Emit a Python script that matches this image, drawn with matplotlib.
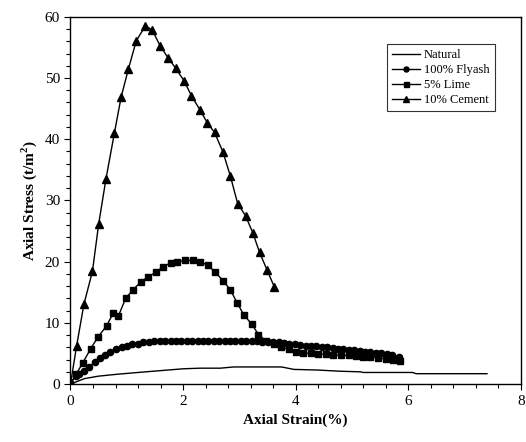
import matplotlib
matplotlib.use('Agg')
import matplotlib.pyplot as plt
from matplotlib.ticker import MultipleLocator

plt.rcParams['font.family'] = ['Liberation Serif', 'DejaVu Serif']
plt.rcParams['mathtext.fontset'] = 'custom'
plt.rcParams['mathtext.rm'] = 'Liberation Serif'
plt.rcParams['mathtext.bf'] = 'Liberation Serif:bold'

# Natural (line only)
natural_x = [0, 0.25, 0.5, 0.82, 1.2, 1.6, 2.0, 2.3, 2.66, 2.9, 3.3, 3.75, 3.97,
             4.38, 4.8, 5.16, 5.2, 6.08, 6.14, 7.4]
natural_y = [0, 0.9, 1.3, 1.6, 1.9, 2.2, 2.5, 2.6, 2.6, 2.8, 2.8, 2.8, 2.4,
             2.3, 2.1, 2.0, 1.9, 1.9, 1.7, 1.7]

# 100% Flyash
flyash_x = [0.0, 0.09, 0.16, 0.24, 0.33, 0.43, 0.52, 0.62, 0.71, 0.81,
            0.91, 1.00, 1.10, 1.20, 1.29, 1.40, 1.49, 1.59, 1.68, 1.78,
            1.87, 1.97, 2.07, 2.16, 2.26, 2.35, 2.45, 2.55, 2.64, 2.74,
            2.83, 2.93, 3.03, 3.12, 3.22, 3.31, 3.41, 3.51, 3.60, 3.70,
            3.79, 3.89, 3.99, 4.08, 4.18, 4.27, 4.37, 4.47, 4.56, 4.66,
            4.75, 4.85, 4.95, 5.04, 5.14, 5.23, 5.33, 5.43, 5.52, 5.62,
            5.71, 5.84]
flyash_y = [0.2, 1.3, 1.6, 2.2, 2.8, 3.6, 4.2, 4.7, 5.2, 5.7,
            6.0, 6.3, 6.5, 6.6, 6.8, 6.9, 7.0, 7.0, 7.0, 7.1,
            7.1, 7.1, 7.1, 7.1, 7.1, 7.1, 7.1, 7.1, 7.1, 7.1,
            7.1, 7.1, 7.1, 7.0, 7.0, 7.0, 6.9, 6.9, 6.8, 6.8,
            6.7, 6.6, 6.5, 6.4, 6.3, 6.3, 6.2, 6.1, 6.0, 5.9,
            5.8, 5.7, 5.6, 5.5, 5.4, 5.3, 5.2, 5.1, 5.0, 4.9,
            4.8, 4.5]

# 5% Lime
lime_x = [0.0, 0.1, 0.22, 0.36, 0.49, 0.64, 0.76, 0.85, 0.98, 1.11,
          1.25, 1.38, 1.52, 1.65, 1.78, 1.90, 2.04, 2.17, 2.30, 2.44,
          2.57, 2.71, 2.84, 2.96, 3.08, 3.22, 3.34, 3.48, 3.61, 3.74,
          3.88, 4.01, 4.14, 4.27, 4.40, 4.54, 4.67, 4.80, 4.94, 5.07,
          5.20, 5.33, 5.46, 5.60, 5.73, 5.86]
lime_y = [0.0, 1.6, 3.5, 5.8, 7.7, 9.5, 11.6, 11.1, 14.0, 15.4,
          16.7, 17.5, 18.3, 19.2, 19.8, 20.0, 20.2, 20.2, 20.0, 19.4,
          18.3, 16.9, 15.4, 13.3, 11.3, 9.8, 8.1, 7.0, 6.5, 6.0,
          5.7, 5.3, 5.1, 5.0, 4.9, 4.9, 4.8, 4.7, 4.7, 4.6,
          4.5, 4.4, 4.3, 4.1, 4.0, 3.8]

# 10% Cement
cement_x = [0, 0.11, 0.24, 0.39, 0.5, 0.63, 0.78, 0.9, 1.03, 1.17,
            1.33, 1.45, 1.59, 1.74, 1.87, 2.02, 2.15, 2.3, 2.43, 2.56,
            2.71, 2.84, 2.97, 3.11, 3.24, 3.36, 3.49, 3.62]
cement_y = [0, 6.3, 13.1, 18.4, 26.1, 33.5, 41.0, 46.9, 51.5, 56.1,
            58.5, 57.9, 55.3, 53.2, 51.6, 49.5, 47.1, 44.8, 42.7, 41.1,
            37.9, 34.0, 29.5, 27.5, 24.7, 21.5, 18.7, 15.9]

fig = plt.figure(figsize=(5.26, 4.42), dpi=100)
ax = fig.add_axes([0.134, 0.131, 0.856, 0.831])

ax.plot(natural_x, natural_y, color='black', lw=1.0, label='Natural')
ax.plot(flyash_x, flyash_y, color='black', lw=1.0, marker='o', ms=4.5, label='100% Flyash')
ax.plot(lime_x, lime_y, color='black', lw=1.0, marker='s', ms=4.5, label='5% Lime')
ax.plot(cement_x, cement_y, color='black', lw=1.0, marker='^', ms=5.5, label='10% Cement')

ax.set_xlim(0, 8)
ax.set_ylim(0, 60)
ax.xaxis.set_major_locator(MultipleLocator(2))
ax.xaxis.set_minor_locator(MultipleLocator(0.4))
ax.yaxis.set_major_locator(MultipleLocator(10))
ax.yaxis.set_minor_locator(MultipleLocator(2))
ax.tick_params(which='both', direction='out', labelsize=11, width=0.8)
ax.tick_params(which='major', length=4)
ax.tick_params(which='minor', length=3)
for s in ax.spines.values():
    s.set_linewidth(1.0)

ax.set_xlabel('Axial Strain(%)', fontsize=11, fontweight='bold')
ax.set_ylabel(r'Axial Stress (t/m$^{\mathbf{2}}$)', fontsize=11, fontweight='bold')

leg = ax.legend(loc='upper right', bbox_to_anchor=(0.942, 0.926), fontsize=9,
                frameon=True, fancybox=False, edgecolor='black', handlelength=2.3,
                borderpad=0.4, labelspacing=0.25, handletextpad=0.3,
                borderaxespad=0, markerscale=0.8)
leg.get_frame().set_linewidth(0.8)

fig.savefig('out.png', dpi=100)
